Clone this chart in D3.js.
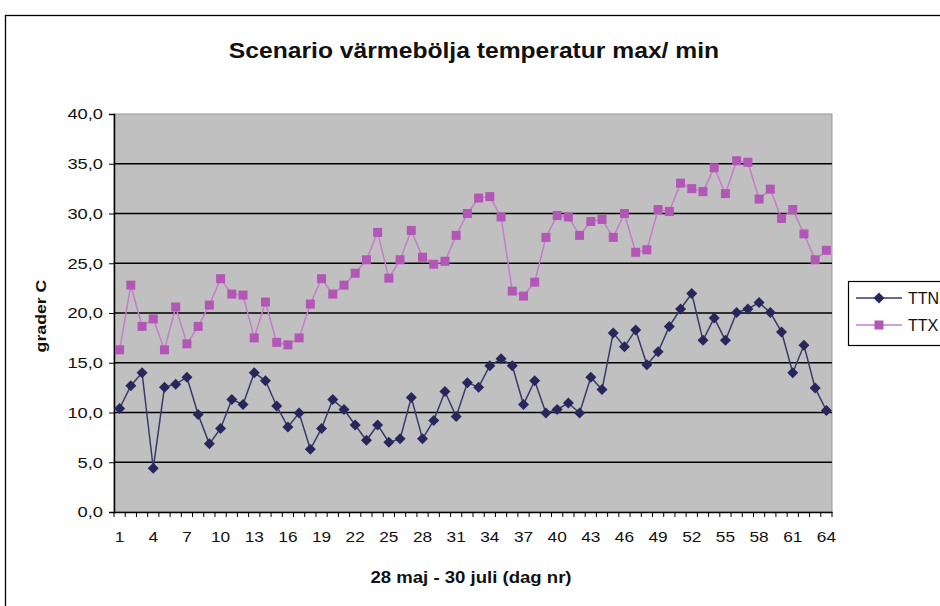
<!DOCTYPE html>
<html>
<head>
<meta charset="utf-8">
<script src="https://cdn.jsdelivr.net/npm/d3@7"></script>
<style>
  body { margin: 0; background: #fff; }
  text { font-family: "Liberation Sans", Arial, sans-serif; }
</style>
</head>
<body>
<script>
// day numbers 1..64 (28 maj - 30 juli)
const days = d3.range(1, 65);

// min temperature
const ttn = [10.4, 12.7, 14.0, 4.4, 12.55, 12.85, 13.55, 9.8, 6.85, 8.4,
  11.3, 10.8, 14.0, 13.2, 10.65, 8.55, 9.95, 6.3, 8.4, 11.3,
  10.3, 8.75, 7.2, 8.75, 7.0, 7.35, 11.5, 7.35, 9.2, 12.1,
  9.6, 13.0, 12.55, 14.7, 15.4, 14.7, 10.8, 13.2, 9.95, 10.3,
  10.95, 9.95, 13.55, 12.3, 18.0, 16.6, 18.3, 14.8, 16.1, 18.65,
  20.4, 21.95, 17.25, 19.5, 17.25, 20.05, 20.4, 21.05, 20.05, 18.1,
  14.0, 16.75, 12.45, 10.2];

// max temperature
const ttx = [16.3, 22.8, 18.65, 19.4, 16.3, 20.6, 16.9, 18.65, 20.8, 23.45,
  21.9, 21.8, 17.5, 21.1, 17.05, 16.8, 17.5, 20.9, 23.45, 21.9,
  22.8, 24.0, 25.35, 28.1, 23.5, 25.35, 28.3, 25.6, 24.9, 25.2,
  27.8, 30.0, 31.55, 31.7, 29.65, 22.2, 21.7, 23.1, 27.6, 29.8,
  29.65, 27.8, 29.2, 29.4, 27.6, 30.0, 26.1, 26.35, 30.4, 30.2,
  33.05, 32.5, 32.2, 34.6, 32.0, 35.3, 35.15, 31.45, 32.45, 29.5,
  30.4, 27.95, 25.35, 26.3];

const yTicks = [0, 5, 10, 15, 20, 25, 30, 35, 40];
const xLabelDays = d3.range(1, 65, 3);

const series = [
  { name: "TTN", values: ttn, color: "#27275c", line: "#3a3a6a", marker: "diamond" },
  { name: "TTX", values: ttx, color: "#b257b6", line: "#c77ccb", marker: "square" }
];

const W = 940, H = 606;
const plot = { left: 114, top: 114, right: 832, bottom: 512 };

const svg = d3.select("body").append("svg")
  .attr("width", W).attr("height", H);

// the original text is a bit wider than Liberation Sans, stretch it
function widen(sel, k) {
  sel.each(function () {
    const len = this.getComputedTextLength();
    d3.select(this).attr("textLength", len * k).attr("lengthAdjust", "spacingAndGlyphs");
  });
}

// outer chart frame
svg.append("rect")
  .attr("x", 5.5).attr("y", 15.5)
  .attr("width", 960).attr("height", 620)
  .attr("fill", "#fff").attr("stroke", "#000").attr("stroke-width", 1.3);

svg.append("text")
  .attr("x", 474).attr("y", 58)
  .attr("text-anchor", "middle")
  .attr("font-size", 22).attr("font-weight", "bold")
  .attr("fill", "#111")
  .text("Scenario värmebölja temperatur max/ min")
  .call(widen, 1.12);

const x = d3.scaleBand().domain(days).range([plot.left, plot.right]);
const y = d3.scaleLinear().domain([0, 40]).range([plot.bottom, plot.top]);

// plot area
svg.append("rect")
  .attr("x", plot.left).attr("y", plot.top)
  .attr("width", plot.right - plot.left).attr("height", plot.bottom - plot.top)
  .attr("fill", "#c0c0c0").attr("stroke", "#999").attr("stroke-width", 1);

// gridlines
svg.append("g").selectAll("line")
  .data(yTicks.filter(d => d > 0 && d < 40))
  .join("line")
  .attr("x1", plot.left).attr("x2", plot.right)
  .attr("y1", d => y(d)).attr("y2", d => y(d))
  .attr("stroke", "#000").attr("stroke-width", 1.5);

// y axis
const yAxis = svg.append("g")
  .attr("transform", `translate(${plot.left},0)`)
  .call(d3.axisLeft(y).tickValues(yTicks).tickSize(5).tickPadding(6)
    .tickFormat(d => d3.format(".1f")(d).replace(".", ",")));
yAxis.select(".domain").attr("stroke", "#000").attr("stroke-width", 1.5);
yAxis.selectAll("text").attr("font-size", 15).attr("fill", "#111")
  .style("font-family", "'Liberation Sans', Arial, sans-serif")
  .call(widen, 1.22);

// x axis: ticks at category boundaries, labels every third day
const xAxis = svg.append("g")
  .attr("transform", `translate(0,${plot.bottom})`)
  .call(d3.axisBottom(x).tickValues(xLabelDays).tickSize(0).tickPadding(19));
xAxis.select(".domain").attr("stroke", "#000").attr("stroke-width", 1.5);
xAxis.selectAll("text").attr("font-size", 15).attr("fill", "#111")
  .style("font-family", "'Liberation Sans', Arial, sans-serif")
  .call(widen, 1.15);

svg.append("g").selectAll("line")
  .data(d3.range(0, 65))
  .join("line")
  .attr("x1", i => plot.left + i * x.step()).attr("x2", i => plot.left + i * x.step())
  .attr("y1", plot.bottom).attr("y2", plot.bottom + 5)
  .attr("stroke", "#000").attr("stroke-width", 1);

// axis titles
svg.append("text")
  .attr("x", 471).attr("y", 583)
  .attr("text-anchor", "middle")
  .attr("font-size", 16).attr("font-weight", "bold").attr("fill", "#111")
  .text("28 maj - 30 juli (dag nr)")
  .call(widen, 1.16);

svg.append("text")
  .attr("transform", "translate(46,316) rotate(-90)")
  .attr("text-anchor", "middle")
  .attr("font-size", 15).attr("font-weight", "bold").attr("fill", "#111")
  .text("grader C")
  .call(widen, 1.18);

const cx = d => x(d) + x.bandwidth() / 2;

function drawMarker(g, type, color) {
  if (type === "diamond") {
    g.append("path").attr("d", "M0,-5.5L5.5,0L0,5.5L-5.5,0Z").attr("fill", color);
  } else {
    g.append("rect").attr("x", -4.5).attr("y", -4.5).attr("width", 9).attr("height", 9)
      .attr("fill", color);
  }
}

series.slice().reverse().forEach(s => {
  const line = d3.line().x((v, i) => cx(days[i])).y(v => y(v));
  svg.append("path")
    .datum(s.values)
    .attr("d", line)
    .attr("fill", "none")
    .attr("stroke", s.line).attr("stroke-width", 1.5);
  s.values.forEach((v, i) => {
    const g = svg.append("g").attr("transform", `translate(${cx(days[i])},${y(v)})`);
    drawMarker(g, s.marker, s.color);
  });
});

// legend
const leg = svg.append("g");
leg.append("rect")
  .attr("x", 848.5).attr("y", 281.5).attr("width", 120).attr("height", 64)
  .attr("fill", "#fff").attr("stroke", "#000").attr("stroke-width", 1.2);
series.forEach((s, i) => {
  const ly = 298 + i * 27;
  leg.append("line")
    .attr("x1", 856).attr("x2", 902).attr("y1", ly).attr("y2", ly)
    .attr("stroke", s.line).attr("stroke-width", 1.5);
  drawMarker(leg.append("g").attr("transform", `translate(879,${ly})`), s.marker, s.color);
  leg.append("text")
    .attr("x", 908).attr("y", ly + 6)
    .attr("font-size", 16).attr("fill", "#111")
    .text(s.name);
});
</script>
</body>
</html>
